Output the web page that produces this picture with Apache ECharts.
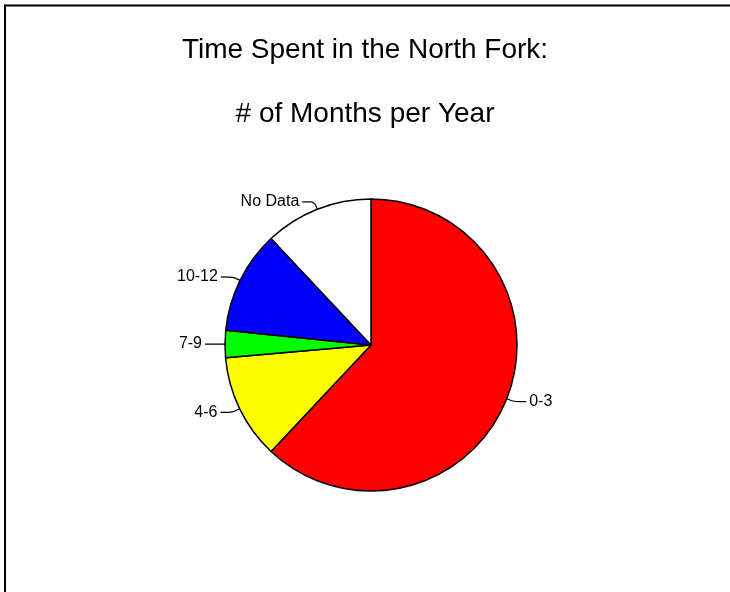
<!DOCTYPE html>
<html>
<head>
<meta charset="utf-8">
<script src="https://cdn.jsdelivr.net/npm/echarts@6/dist/echarts.min.js"></script>
<style>
html,body{margin:0;padding:0;background:#fff;}
#chart{width:730px;height:592px;}
</style>
</head>
<body>
<div id="chart"></div>
<script>
var categories = ['0-3', '4-6', '7-9', '10-12', 'No Data'];
var values = [62.0, 11.6, 3.0, 11.4, 12.0];
var colors = ['#ff0000', '#ffff00', '#00ff00', '#0000ff', '#ffffff'];
var titleLines = ['Time Spent in the North Fork:', '# of Months per Year'];

var chart = echarts.init(document.getElementById('chart'));
var data = categories.map(function (c, i) {
  return { name: c, value: values[i], itemStyle: { color: colors[i] } };
});
chart.setOption({
  animation: false,
  backgroundColor: '#ffffff',
  title: [
    { text: titleLines[0], left: 'center', top: 31,
      textStyle: { fontFamily: 'Liberation Sans, Arial, sans-serif', fontSize: 28, fontWeight: 'normal', color: '#000' } },
    { text: titleLines[1], left: 'center', top: 95,
      textStyle: { fontFamily: 'Liberation Sans, Arial, sans-serif', fontSize: 28, fontWeight: 'normal', color: '#000' } }
  ],
  graphic: [
    { type: 'line', shape: { x1: 4, y1: 5.5, x2: 730, y2: 5.5 }, style: { stroke: '#000', lineWidth: 2 } },
    { type: 'line', shape: { x1: 5, y1: 4.5, x2: 5, y2: 592 }, style: { stroke: '#000', lineWidth: 2 } }
  ],
  series: [{
    type: 'pie',
    center: [371, 345],
    radius: 146,
    startAngle: 90,
    clockwise: true,
    avoidLabelOverlap: false,
    itemStyle: { borderColor: '#000', borderWidth: 1.5 },
    label: {
      show: true, position: 'outside', color: '#000',
      fontFamily: 'Liberation Sans, Arial, sans-serif', fontSize: 16,
      distanceToLabelLine: 3
    },
    labelLine: { show: true, length: 8, length2: 12, smooth: 0.3, lineStyle: { color: '#000', width: 1.2 } },
    emphasis: { disabled: true },
    data: data
  }]
});
</script>
</body>
</html>
